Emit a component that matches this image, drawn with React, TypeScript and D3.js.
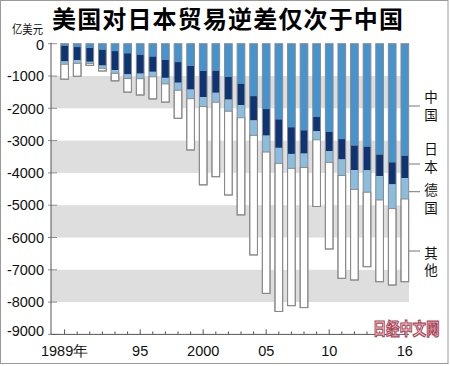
import { useMemo } from "react";
import * as d3 from "d3";

const W = 450;
const H = 366;
const MARGIN = { top: 43.7, left: 51, right: 409, bottom: 334.4 };

// 亿美元, US goods trade deficit by partner (shown as negative values)
const years = d3.range(1989, 2017);
const china = [62, 104, 127, 183, 228, 295, 338, 395, 497, 569, 687, 838, 831, 1031, 1241, 1623, 2023, 2341, 2585, 2680, 2269, 2731, 2953, 3151, 3187, 3431, 3672, 3470];
const japan = [491, 411, 434, 496, 594, 657, 591, 476, 561, 640, 734, 816, 690, 701, 660, 756, 825, 884, 828, 723, 447, 601, 632, 763, 734, 670, 686, 689];
const germany = [83, 94, 49, 83, 96, 125, 154, 155, 187, 232, 281, 291, 290, 359, 392, 459, 506, 479, 447, 429, 260, 343, 494, 597, 678, 737, 748, 649];
const others = [464, 401, 60, 83, 232, 423, 505, 684, 565, 869, 1588, 2425, 2307, 2593, 3007, 3702, 4376, 4586, 4250, 4338, 2064, 2681, 3185, 2805, 2305, 2530, 2365, 2560];

const seriesKeys = ["china", "japan", "germany", "others"];
const seriesNames = ["中国", "日本", "德国", "其他"];
const COLORS: Record<string, string> = {
  china: "#4593cf",
  japan: "#0e3473",
  germany: "#8bbddf",
  others: "#ffffff",
};

const yTicks = [0, -1000, -2000, -3000, -4000, -5000, -6000, -7000, -8000, -9000];
const xLabels: Record<number, string> = { 1989: "1989年", 1995: "95", 2000: "2000", 2005: "05", 2010: "10", 2016: "16" };

// right-hand legend: leader line y and top of the vertical label (px)
const LEGEND_LEADER = [106, 164, 191.7, 251];
const LEGEND_TOP = [90.5, 142.5, 183.5, 246];

const App = () => {
  const table = useMemo(
    () =>
      years.map((year, i) => ({
        year,
        china: -china[i],
        japan: -japan[i],
        germany: -germany[i],
        others: -others[i],
      })),
    []
  );

  const stacked = d3
    .stack<any>()
    .keys(seriesKeys)
    .offset(d3.stackOffsetDiverging)(table);

  const yScale = d3.scaleLinear().domain([0, -9000]).range([MARGIN.top, MARGIN.bottom]);
  const xScale = d3
    .scaleBand<number>()
    .domain(years)
    .range([55.7, 413.7])
    .paddingInner(0.39)
    .paddingOuter(0.4);
  const bw = xScale.bandwidth();

  const font = "'Liberation Sans', Arial, sans-serif";
  const cjk = "'Noto Sans CJK SC', 'Noto Sans', sans-serif";

  return (
    <svg
      width={W}
      height={H}
      viewBox={`0 0 ${W} ${H}`}
      style={{ position: "absolute", left: 0, top: 0, background: "#fff" }}
    >
      <rect x={0.5} y={0.5} width={447.5} height={363} fill="#fff" stroke="#9a9a9a" />

      {/* gray bands */}
      {[-1000, -3000, -5000, -7000].map((v) => (
        <rect
          key={v}
          x={MARGIN.left}
          y={yScale(v)}
          width={MARGIN.right - MARGIN.left}
          height={yScale(v - 1000) - yScale(v)}
          fill="#dedede"
        />
      ))}

      {/* y ticks */}
      {yTicks.map((t) => (
        <g key={t}>
          <line x1={48} x2={57} y1={yScale(t)} y2={yScale(t)} stroke="#777" strokeWidth={0.8} />
          <text
            x={44}
            y={yScale(t) + (t === -9000 ? -4 : t === 0 ? 1 : 0)}
            dy="0.36em"
            textAnchor="end"
            fontFamily={font}
            fontSize={14.5}
            fill="#111"
          >
            {t}
          </text>
        </g>
      ))}

      {/* bars */}
      {stacked.map((layer) =>
        layer.map((d: any) => {
          const x = xScale(d.data.year)!;
          const y0 = yScale(d[0]);
          const y1 = yScale(d[1]);
          return (
            <rect
              key={layer.key + d.data.year}
              x={x}
              y={Math.min(y0, y1)}
              width={bw}
              height={Math.abs(y1 - y0)}
              fill={COLORS[layer.key]}
              stroke={layer.key === "others" ? "#8a8a8a" : "none"}
              strokeWidth={1}
            />
          );
        })
      )}
      {table.map((d) => {
        const total = d.china + d.japan + d.germany + d.others;
        return (
          <rect
            key={"o" + d.year}
            x={xScale(d.year)!}
            y={yScale(0)}
            width={bw}
            height={yScale(total) - yScale(0)}
            fill="none"
            stroke="#8a8a8a"
            strokeWidth={1}
          />
        );
      })}

      {/* axes */}
      <line x1={MARGIN.left} x2={MARGIN.left} y1={MARGIN.top - 1} y2={MARGIN.bottom} stroke="#555" strokeWidth={1} />
      <line x1={MARGIN.left} x2={MARGIN.right} y1={MARGIN.bottom} y2={MARGIN.bottom} stroke="#555" strokeWidth={1} />
      {years.map((yr) => {
        const cx = xScale(yr)! + bw / 2;
        const major = xLabels[yr] !== undefined;
        return (
          <g key={"t" + yr}>
            <line
              x1={cx}
              x2={cx}
              y1={MARGIN.bottom}
              y2={MARGIN.bottom - (major ? 5 : 3)}
              stroke="#555"
              strokeWidth={1}
            />
            {major && (
              <text x={cx} y={356} textAnchor="middle" fontFamily={font} fontSize={14.5} fill="#111">
                {xLabels[yr]}
              </text>
            )}
          </g>
        );
      })}

      {/* legend */}
      {seriesNames.map((name, i) => (
        <g key={name}>
          <line x1={409} x2={420} y1={LEGEND_LEADER[i]} y2={LEGEND_LEADER[i]} stroke="#777" strokeWidth={1} />
          <text
            x={431}
            y={LEGEND_TOP[i]}
            style={{ writingMode: "vertical-rl", letterSpacing: "4px" }}
            fontFamily={cjk}
            fontSize={13.5}
            fill="#111"
          >
            {name}
          </text>
        </g>
      ))}

      {/* titles */}
      <text x={52} y={28} fontFamily={cjk} fontWeight="bold" fontSize={24} textLength={351} lengthAdjust="spacing" fill="#000">
        美国对日本贸易逆差仅次于中国
      </text>
      <text x={12} y={34} fontFamily={cjk} fontSize={12} textLength={31} lengthAdjust="spacingAndGlyphs" fill="#111">
        亿美元
      </text>

      {/* watermark */}
      <text
        transform="translate(373,335) scale(0.95,1.22)"
        fontFamily={cjk}
        fontWeight="bold"
        fontSize={14}
        fill="#f7e4e6"
        stroke="#a94557"
        strokeWidth={1}
      >
        日经中文网
      </text>
    </svg>
  );
};

export default App;
